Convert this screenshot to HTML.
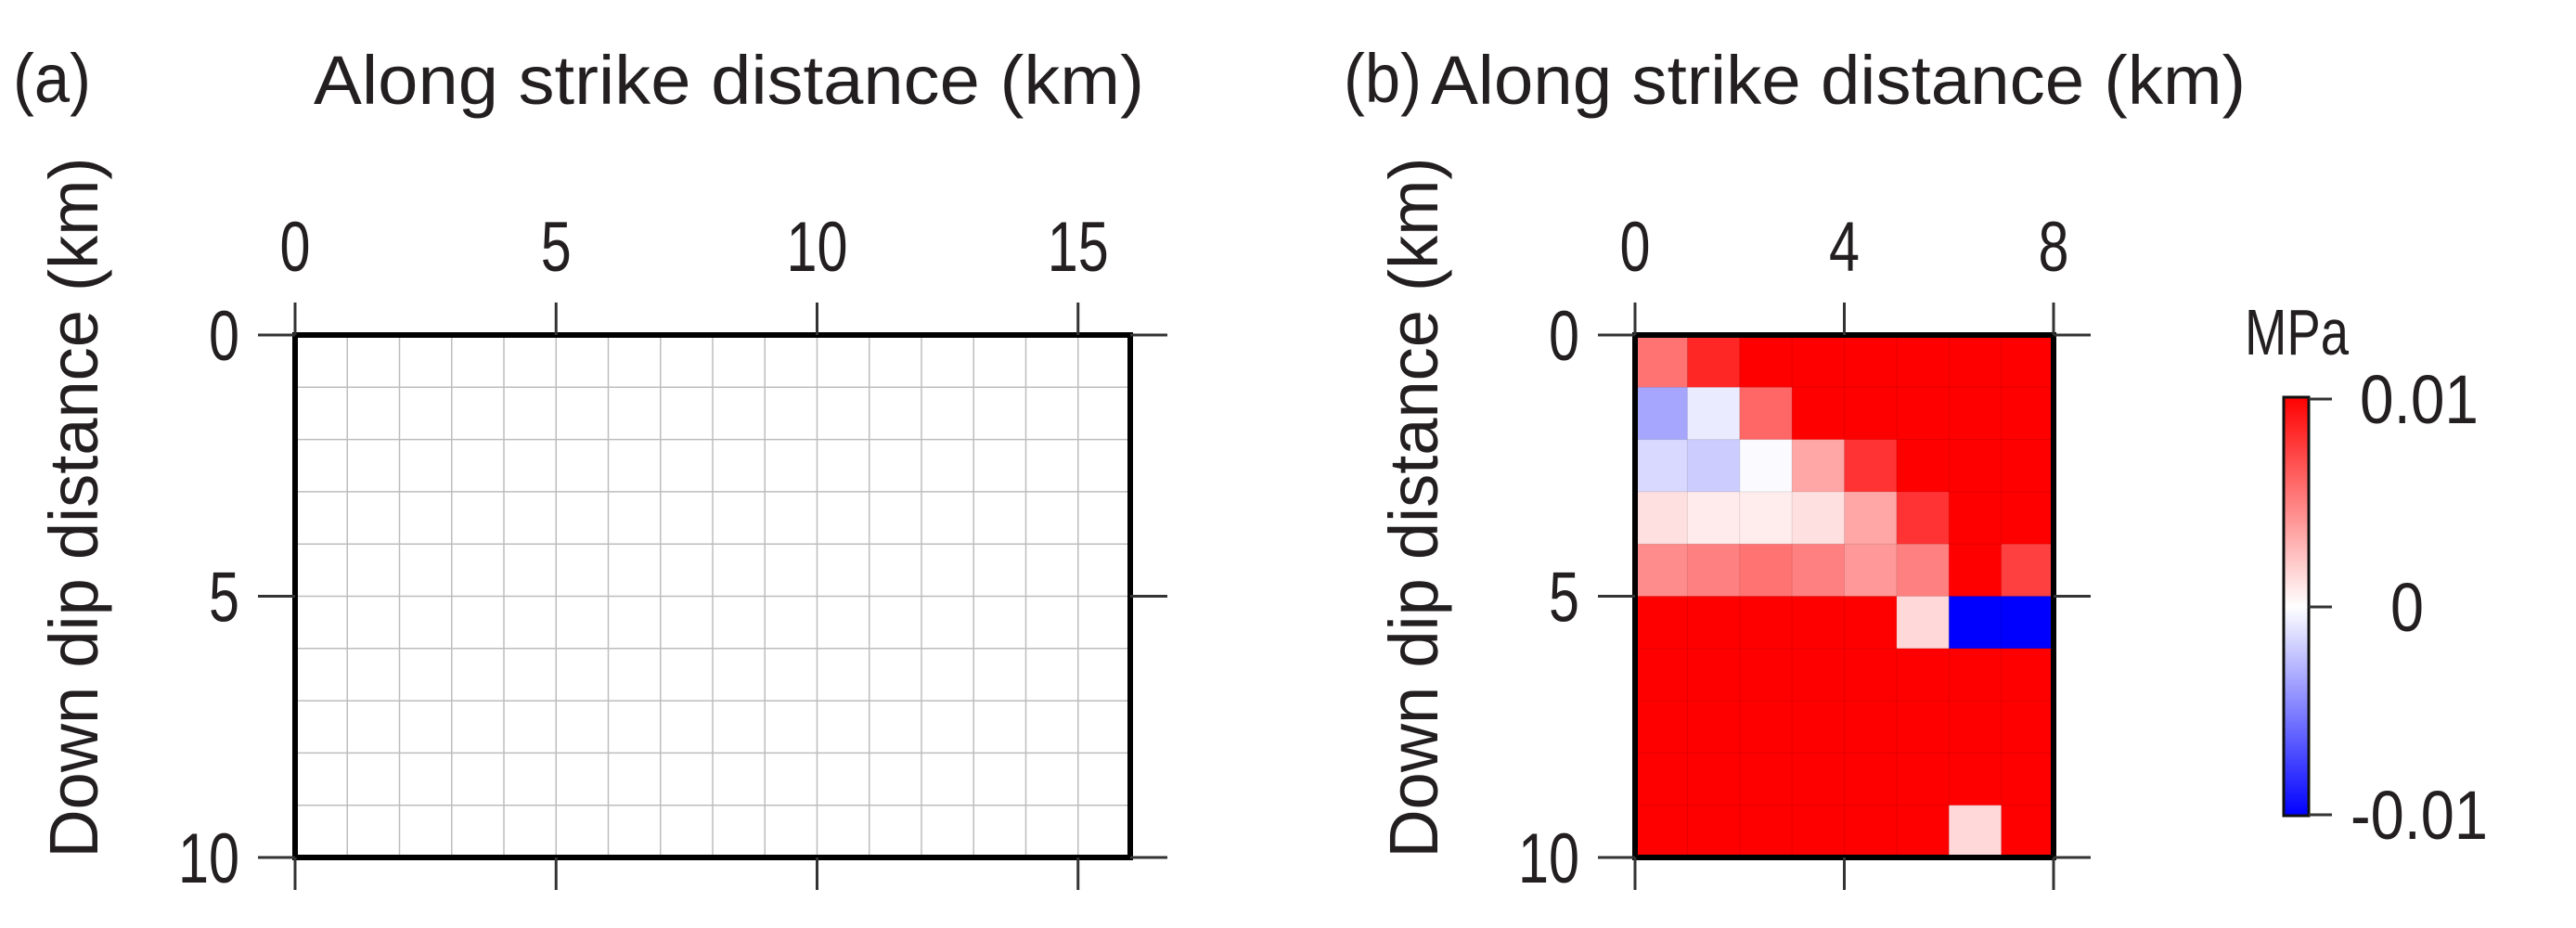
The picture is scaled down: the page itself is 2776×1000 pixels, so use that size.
<!DOCTYPE html>
<html><head><meta charset="utf-8"><style>
html,body{margin:0;padding:0;background:#fff;}
svg{display:block;font-family:"Liberation Sans",Arial,sans-serif;fill:#231f20;}
</style></head><body>
<svg id="fig" width="2776" height="1000" viewBox="0 0 2776 1000">
<defs>
<linearGradient id="cbar" x1="0" y1="1" x2="0" y2="0">
<stop offset="0" stop-color="#0000ff"/><stop offset="0.5" stop-color="#ffffff"/><stop offset="1" stop-color="#ff0000"/>
</linearGradient>
</defs>
<g id="pa"></g>
<g id="pb"></g>
<g id="cb">
<rect x="2461" y="428" width="27" height="451" fill="url(#cbar)" stroke="#111" stroke-width="3"/>
<line x1="2488" y1="430" x2="2513" y2="430" stroke="#333" stroke-width="3"/>
<line x1="2488" y1="654" x2="2513" y2="654" stroke="#333" stroke-width="3"/>
<line x1="2488" y1="878" x2="2513" y2="878" stroke="#333" stroke-width="3"/>
<text x="2475" y="382" font-size="70" text-anchor="middle" textLength="112" lengthAdjust="spacingAndGlyphs">MPa</text>
<text x="2543" y="456" font-size="74" textLength="128" lengthAdjust="spacingAndGlyphs">0.01</text>
<text x="2576" y="680" font-size="74" textLength="36" lengthAdjust="spacingAndGlyphs">0</text>
<text x="2533" y="904" font-size="74" textLength="148" lengthAdjust="spacingAndGlyphs">-0.01</text>
</g>
</svg>
<script>
const aValues = [
[0,0,0,0,0,0,0,0,0,0,0,0,0,0,0,0],
[0,0,0,0,0,0,0,0,0,0,0,0,0,0,0,0],
[0,0,0,0,0,0,0,0,0,0,0,0,0,0,0,0],
[0,0,0,0,0,0,0,0,0,0,0,0,0,0,0,0],
[0,0,0,0,0,0,0,0,0,0,0,0,0,0,0,0],
[0,0,0,0,0,0,0,0,0,0,0,0,0,0,0,0],
[0,0,0,0,0,0,0,0,0,0,0,0,0,0,0,0],
[0,0,0,0,0,0,0,0,0,0,0,0,0,0,0,0],
[0,0,0,0,0,0,0,0,0,0,0,0,0,0,0,0],
[0,0,0,0,0,0,0,0,0,0,0,0,0,0,0,0]
];
const bValues = [
[0.55,0.85,1,1,1,1,1,1],
[-0.35,-0.08,0.6,1,1,1,1,1],
[-0.15,-0.2,-0.02,0.35,0.8,1,1,1],
[0.12,0.08,0.07,0.12,0.35,0.8,1,1],
[0.45,0.5,0.55,0.5,0.4,0.5,1,0.75],
[1,1,1,1,1,0.15,-1,-1],
[1,1,1,1,1,1,1,1],
[1,1,1,1,1,1,1,1],
[1,1,1,1,1,1,1,1],
[1,1,1,1,1,1,0.15,1]
];
const aXTicks = [0,5,10,15];
const bXTicks = [0,4,8];
const yTicks = [0,5,10];

const NS="http://www.w3.org/2000/svg";
function mk(tag,attrs,parent){const e=document.createElementNS(NS,tag);for(const k in attrs)e.setAttribute(k,attrs[k]);parent.appendChild(e);return e;}
function col(v){v=Math.max(-1,Math.min(1,v));if(v>=0){const c=Math.round(255*(1-v));return `rgb(255,${c},${c})`;}const c=Math.round(255*(1+v));return `rgb(${c},${c},255)`;}

function panel(g,vals,xmax,xTicks,X0,X1,Y0,Y1,label,labelX,titleX,titleW,ylabX,grid){
  const ymax=10;
  const sx=v=>X0+(X1-X0)*v/xmax, sy=v=>Y0+(Y1-Y0)*v/ymax;
  const cols=vals[0].length, rows=vals.length;
  const cw=xmax/cols, ch=ymax/rows;
  for(let r=0;r<rows;r++)for(let c=0;c<cols;c++){
    const rc=mk('rect',{x:sx(c*cw),y:sy(r*ch),width:sx((c+1)*cw)-sx(c*cw)+0.5,height:sy((r+1)*ch)-sy(r*ch)+0.5,fill:col(vals[r][c])},g);
    
    
  }
  for(let c=1;c<cols;c++){mk('line',{x1:sx(c*cw),x2:sx(c*cw),y1:Y0,y2:Y1,stroke:grid.stroke,'stroke-width':grid.w},g);}
  for(let r=1;r<rows;r++){mk('line',{x1:X0,x2:X1,y1:sy(r*ch),y2:sy(r*ch),stroke:grid.stroke,'stroke-width':grid.w},g);}
  const fr=mk('rect',{x:X0,y:Y0,width:X1-X0,height:Y1-Y0,fill:'none',stroke:'#000','stroke-width':6},g);
  
  
  xTicks.forEach(t=>{
    mk('line',{x1:sx(t),x2:sx(t),y1:Y0-35,y2:Y0,stroke:'#333','stroke-width':3},g);
    mk('line',{x1:sx(t),x2:sx(t),y1:Y1,y2:Y1+35,stroke:'#333','stroke-width':3},g);
    const s=String(t);
    const tx=mk('text',{x:sx(t),y:292,'font-size':76,'text-anchor':'middle',textLength:s.length*33,lengthAdjust:'spacingAndGlyphs'},g);tx.textContent=s;
    
    
  });
  yTicks.forEach(t=>{
    mk('line',{x1:X0-40,x2:X0,y1:sy(t),y2:sy(t),stroke:'#333','stroke-width':3},g);
    mk('line',{x1:X1,x2:X1+40,y1:sy(t),y2:sy(t),stroke:'#333','stroke-width':3},g);
    const s=String(t);
    const tx=mk('text',{x:X0-60,y:sy(t)+27,'font-size':76,'text-anchor':'end',textLength:s.length*33,lengthAdjust:'spacingAndGlyphs'},g);tx.textContent=s;
    
    
  });
  const pl=mk('text',{x:labelX,y:110,'font-size':74,textLength:84,lengthAdjust:'spacingAndGlyphs'},g);pl.textContent=label;
  
  
  const tt=mk('text',{x:titleX,y:112,'font-size':74,textLength:titleW,lengthAdjust:'spacingAndGlyphs'},g);tt.textContent='Along strike distance (km)';
  
  
  const yt=mk('text',{x:0,y:0,'font-size':74,'text-anchor':'middle',transform:`translate(${ylabX},547) rotate(-90)`,textLength:755,lengthAdjust:'spacingAndGlyphs'},g);yt.textContent='Down dip distance (km)';
  
  
}
panel(document.getElementById('pa'),aValues,16,aXTicks,318,1218,361,924,'(a)',14,338,895,105,{stroke:'#bdbdbd',w:1.5});
panel(document.getElementById('pb'),bValues,8,bXTicks,1762,2213,361,924,'(b)',1448,1542,878,1549,{stroke:'rgba(0,0,0,0.1)',w:1});
</script>
</body></html>
